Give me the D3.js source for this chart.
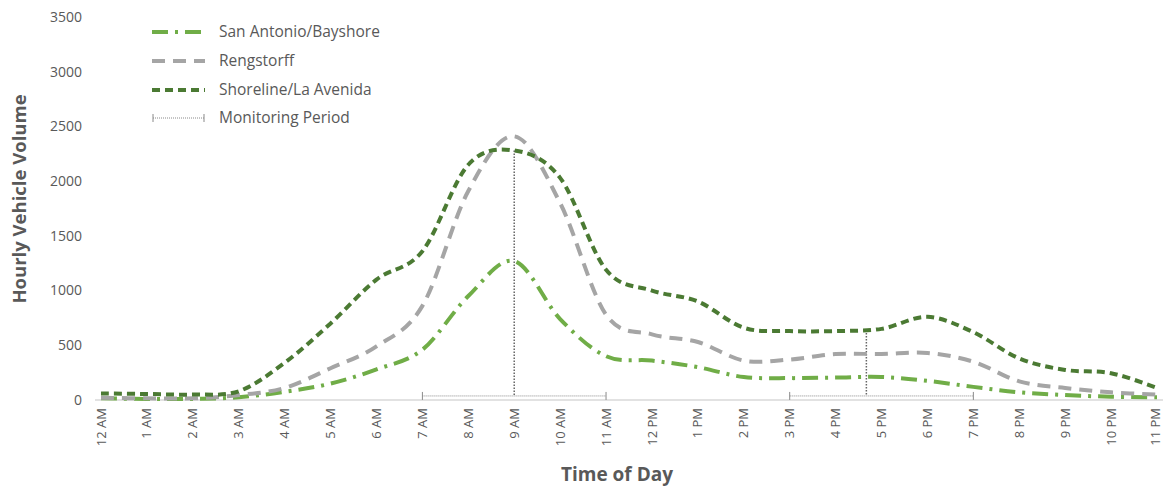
<!DOCTYPE html>
<html><head><meta charset="utf-8">
<script src="https://cdn.jsdelivr.net/npm/d3@7"></script>
<style>body{margin:0;background:#fff}svg{display:block}text{font-family:"Open Sans","Noto Sans",sans-serif}</style>
</head><body><svg id="c" width="1164" height="487"></svg>
<script>
const hours = ["12 AM","1 AM","2 AM","3 AM","4 AM","5 AM","6 AM","7 AM","8 AM","9 AM","10 AM","11 AM",
  "12 PM","1 PM","2 PM","3 PM","4 PM","5 PM","6 PM","7 PM","8 PM","9 PM","10 PM","11 PM"];
const sanAntonio = [15,10,10,25,75,150,280,460,950,1270,740,400,360,300,210,200,205,210,175,120,70,45,30,25];
const rengstorff = [20,15,15,45,110,290,490,860,1910,2410,1800,780,600,530,360,370,420,420,430,350,170,110,70,50];
const shoreline = [60,55,50,80,340,700,1100,1360,2150,2280,2030,1190,1000,900,660,630,630,650,760,620,380,275,245,110];
const yTicks = [0,500,1000,1500,2000,2500,3000,3500];
// monitoring periods: start hour, end hour, marker hour, marker top value, bar value
const monStart = [7, 15];
const monEnd = [11, 19];
const monMark = [9, 16.67];
const monTop = [2280, 640];
const monBar = 37;

const series = [
  {name:"San Antonio/Bayshore", values:sanAntonio, color:"#70AD47", dash:"16,7,3,7"},
  {name:"Rengstorff", values:rengstorff, color:"#A5A5A5", dash:"13,8"},
  {name:"Shoreline/La Avenida", values:shoreline, color:"#4B7A33", dash:"8,5"}
];

const svg = d3.select("#c");
const x = d3.scaleLinear().domain([0,23]).range([101,1157]);
const y = d3.scaleLinear().domain([0,3500]).range([400,17]);
const txt = "#595959";

// y axis labels
svg.append("g").selectAll("text").data(yTicks).join("text")
  .attr("x",82).attr("y",d=>y(d)).attr("dy","0.35em").attr("text-anchor","end")
  .attr("font-size",14).attr("fill",txt).text(d=>d);

// baseline
svg.append("line").attr("x1",95).attr("x2",1163).attr("y1",y(0)).attr("y2",y(0))
  .attr("stroke","#D9D9D9").attr("stroke-width",1.5);

// x labels
svg.append("g").selectAll("text").data(hours).join("text")
  .attr("transform",(d,i)=>`translate(${Math.min(x(i),1155)},408) rotate(-90)`)
  .attr("dy","0.35em").attr("text-anchor","end").attr("font-size",13).attr("fill",txt).text(d=>d);

// axis titles
svg.append("text").attr("transform","translate(20,199) rotate(-90)").attr("text-anchor","middle")
  .attr("dy","0.35em").attr("font-size",18.5).attr("font-weight","bold").attr("fill",txt).text("Hourly Vehicle Volume");
svg.append("text").attr("x",617).attr("y",481).attr("text-anchor","middle")
  .attr("font-size",19).attr("font-weight","bold").attr("fill",txt).text("Time of Day");

// monitoring periods
const mon = svg.append("g").attr("stroke","#8a8a8a").attr("stroke-width",1);
monStart.forEach((s,i)=>{
  mon.append("line").attr("x1",x(s)).attr("x2",x(monEnd[i])).attr("y1",y(monBar)).attr("y2",y(monBar)).attr("stroke-dasharray","1,1");
  mon.append("line").attr("x1",x(s)).attr("x2",x(s)).attr("y1",y(monBar)-4).attr("y2",y(monBar)+4);
  mon.append("line").attr("x1",x(monEnd[i])).attr("x2",x(monEnd[i])).attr("y1",y(monBar)-4).attr("y2",y(monBar)+4);
  mon.append("line").attr("x1",x(monMark[i])).attr("x2",x(monMark[i])).attr("y1",y(monTop[i])).attr("y2",y(monBar))
    .attr("stroke","#666").attr("stroke-width",1.5).attr("stroke-dasharray","1.5,1.5");
});

// lines
const line = d3.line().x((d,i)=>x(i)).y(d=>y(d)).curve(d3.curveCardinal.tension(0));
svg.append("g").selectAll("path").data(series).join("path")
  .attr("d",d=>line(d.values)).attr("fill","none").attr("stroke",d=>d.color)
  .attr("stroke-width",4).attr("stroke-dasharray",d=>d.dash);

// legend
const lg = svg.append("g");
const ly = [32,61,90];
series.forEach((s,i)=>{
  lg.append("line").attr("x1",152).attr("x2",205).attr("y1",ly[i]).attr("y2",ly[i])
    .attr("stroke",s.color).attr("stroke-width",4).attr("stroke-dasharray",s.dash);
  lg.append("text").attr("x",219).attr("y",ly[i]).attr("dy","0.35em").attr("font-size",15.5).attr("fill",txt).text(s.name);
});
const lm = lg.append("g").attr("stroke","#8a8a8a").attr("stroke-width",1);
lm.append("line").attr("x1",153).attr("x2",204).attr("y1",118).attr("y2",118).attr("stroke-dasharray","1,1");
lm.append("line").attr("x1",153).attr("x2",153).attr("y1",114).attr("y2",122);
lm.append("line").attr("x1",204).attr("x2",204).attr("y1",114).attr("y2",122);
lg.append("text").attr("x",219).attr("y",118).attr("dy","0.35em").attr("font-size",15.5).attr("fill",txt).text("Monitoring Period");
</script></body></html>
